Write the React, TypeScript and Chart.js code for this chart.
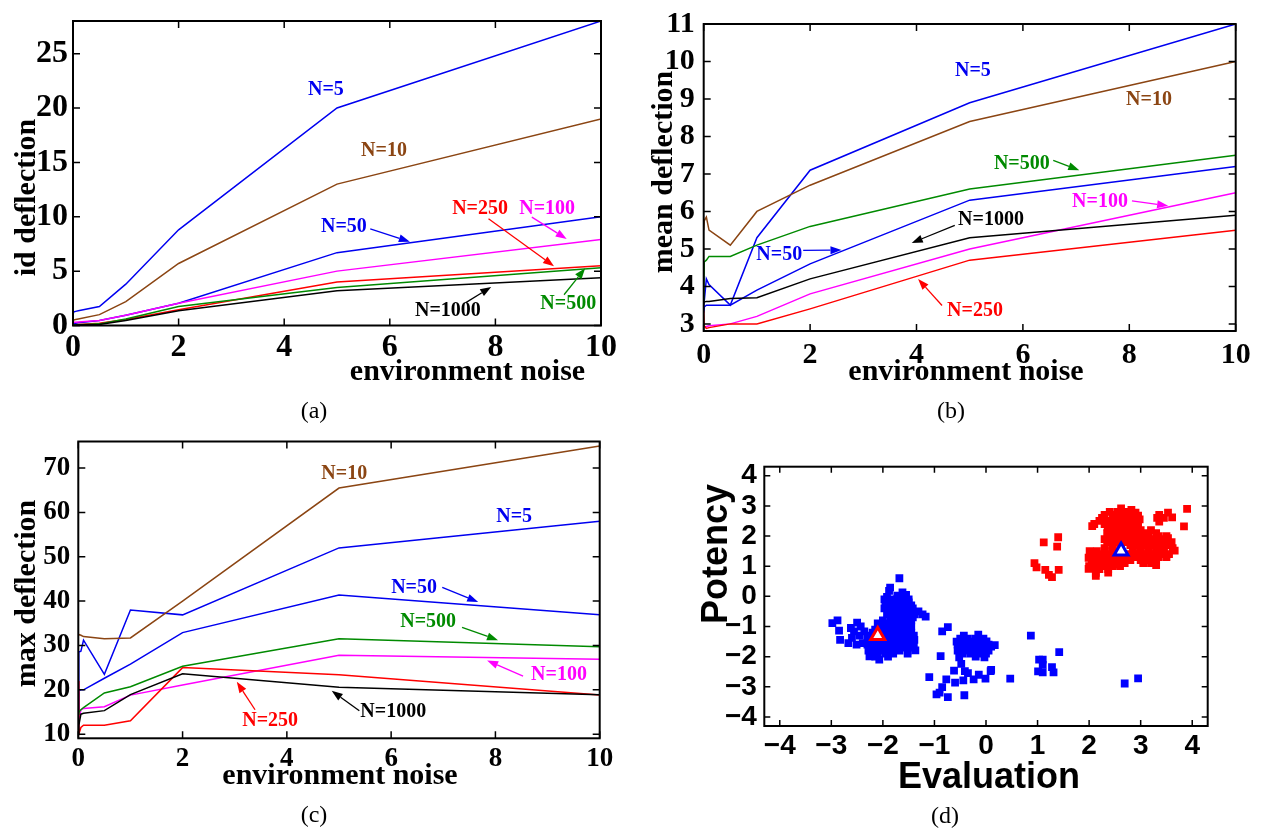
import React, { useEffect, useRef } from "react";
import { Chart, registerables } from "chart.js";
Chart.register(...registerables);

const SERIF = '"Liberation Serif", "Times New Roman", serif';
const SANS = '"Liberation Sans", Arial, sans-serif';

const BLUE = "#0000f0";
const BROWN = "#8b4513";
const GREEN = "#008a00";
const MAGENTA = "#ff00ff";
const RED = "#ff0000";
const BLACK = "#000000";

// ---- shared x values (environment noise) ----
const noiseLevels = [0, 0.01, 0.05, 0.1, 0.5, 1, 2, 5, 10];
const noiseTicks = [0, 2, 4, 6, 8, 10];

// ---- (a) id deflection ----
const idN5 = [1.2, 1.25, 1.3, 1.35, 1.75, 3.8, 8.8, 20.0, 28.0];
const idN10 = [0.45, 0.5, 0.55, 0.6, 1.0, 2.2, 5.7, 13.0, 19.0];
const idN50 = [0.1, 0.15, 0.2, 0.25, 0.45, 0.95, 2.05, 6.7, 10.0];
const idN100 = [0.25, 0.3, 0.3, 0.32, 0.45, 0.95, 2.05, 5.0, 7.9];
const idN250 = [0.05, 0.05, 0.08, 0.1, 0.2, 0.55, 1.45, 4.0, 5.5];
const idN500 = [0.02, 0.03, 0.05, 0.08, 0.15, 0.6, 1.75, 3.5, 5.3];
const idN1000 = [0.0, 0.01, 0.02, 0.04, 0.1, 0.45, 1.35, 3.2, 4.4];
const idTicks = [0, 5, 10, 15, 20, 25];

// ---- (b) mean deflection ----
const meanN5 = [3.35, 3.6, 4.2, 4.05, 3.5, 5.3, 7.1, 8.9, 11.0];
const meanN10 = [5.5, 5.75, 5.85, 5.5, 5.1, 6.0, 6.7, 8.4, 10.0];
const meanN50 = [3.3, 3.45, 3.5, 3.5, 3.5, 3.9, 4.6, 6.3, 7.2];
const meanN100 = [2.95, 2.92, 2.93, 2.95, 3.0, 3.2, 3.8, 5.0, 6.5];
const meanN250 = [3.35, 2.95, 2.88, 2.9, 3.0, 3.0, 3.4, 4.7, 5.5];
const meanN500 = [3.6, 4.65, 4.7, 4.8, 4.8, 5.1, 5.6, 6.6, 7.5];
const meanN1000 = [3.55, 3.58, 3.6, 3.6, 3.68, 3.7, 4.2, 5.3, 5.9];
const meanTicks = [3, 4, 5, 6, 7, 8, 9, 10, 11];

// ---- (c) max deflection ----
const maxN5 = [15, 28.5, 28.7, 31.2, 23.5, 38.0, 36.9, 52.0, 58.0];
const maxN10 = [32.6, 32.5, 32.3, 32.0, 31.5, 31.7, 40.0, 65.5, 75.0];
const maxN50 = [15, 19.8, 20.0, 20.0, 22.6, 25.8, 32.9, 41.4, 36.9];
const maxN100 = [10.5, 13, 15.5, 15.8, 16.2, 18.8, 21.1, 27.8, 26.9];
const maxN250 = [22, 10.0, 11.5, 12.0, 12.0, 13.0, 25.0, 23.4, 18.8];
const maxN500 = [14.5, 15.0, 15.5, 16.0, 19.3, 20.7, 25.3, 31.5, 29.7];
const maxN1000 = [10.2, 12, 14.5, 14.7, 15.3, 18.9, 23.6, 20.6, 18.9];
const maxTicks = [10, 20, 30, 40, 50, 60, 70];

// ---- (d) Evaluation / Potency scatter ----
const factorTicks = [-4, -3, -2, -1, 0, 1, 2, 3, 4];
const blueGroup = [
  [-2.98, -0.89], [-2.88, -0.8], [-2.85, -1.14], [-2.83, -1.44], [-2.67, -1.55], [-2.6, -1.38], [-2.56, -1.16],
  [-2.5, -0.87], [-2.43, -1.0], [-2.51, -1.6], [-2.39, -1.55], [-2.36, -1.16], [-2.45, -1.3], [-2.62, -1.05],
  [-1.68, 0.6], [-1.86, 0.29], [-1.88, 0.18], [-1.62, 0.13], [-1.55, 0.05], [-1.72, 0.02], [-1.92, -0.02],
  [-1.97, -0.1], [-1.85, -0.1], [-1.72, -0.1], [-1.62, -0.1], [-1.5, -0.1],
  [-1.95, -0.2], [-1.8, -0.2], [-1.66, -0.2], [-1.5, -0.2],
  [-1.9, -0.3], [-1.75, -0.3], [-1.6, -0.3], [-1.45, -0.3],
  [-1.97, -0.4], [-1.82, -0.4], [-1.68, -0.4], [-1.55, -0.4], [-1.42, -0.4],
  [-1.88, -0.5], [-1.75, -0.5], [-1.6, -0.5], [-1.49, -0.5], [-1.31, -0.5],
  [-1.92, -0.6], [-1.78, -0.6], [-1.65, -0.6], [-1.5, -0.6], [-1.38, -0.6], [-1.23, -0.6],
  [-1.85, -0.7], [-1.7, -0.7], [-1.55, -0.7], [-1.42, -0.7], [-1.17, -0.67],
  [-2.0, -0.8], [-1.85, -0.8], [-1.72, -0.8], [-1.6, -0.8], [-1.45, -0.8],
  [-2.1, -0.9], [-1.95, -0.9], [-1.8, -0.9], [-1.65, -0.9], [-1.5, -0.9],
  [-2.05, -1.0], [-1.9, -1.0], [-1.75, -1.0], [-1.6, -1.0], [-1.45, -1.0],
  [-2.15, -1.1], [-2.0, -1.1], [-1.85, -1.1], [-1.7, -1.1], [-1.55, -1.1],
  [-2.2, -1.2], [-2.05, -1.2], [-1.9, -1.2], [-1.75, -1.2], [-1.6, -1.2], [-1.45, -1.2],
  [-2.25, -1.3], [-1.95, -1.3], [-1.8, -1.3], [-1.65, -1.3], [-1.5, -1.3], [-1.4, -1.3],
  [-2.3, -1.4], [-2.15, -1.4], [-2.0, -1.4], [-1.85, -1.4], [-1.7, -1.4], [-1.55, -1.4], [-1.39, -1.44],
  [-2.25, -1.5], [-2.1, -1.5], [-1.95, -1.5], [-1.8, -1.5], [-1.65, -1.5], [-1.5, -1.5],
  [-2.3, -1.6], [-2.15, -1.6], [-2.0, -1.6], [-1.85, -1.6], [-1.7, -1.6], [-1.55, -1.6], [-1.4, -1.6],
  [-2.25, -1.7], [-2.1, -1.7], [-1.95, -1.7], [-1.8, -1.7], [-1.65, -1.7], [-1.5, -1.7], [-1.37, -1.79],
  [-2.28, -1.8], [-2.12, -1.8], [-1.98, -1.8], [-1.82, -1.8], [-1.68, -1.8], [-1.52, -1.8],
  [-2.25, -1.9], [-2.1, -1.9], [-1.95, -1.9], [-1.8, -1.9], [-1.52, -1.9],
  [-2.26, -1.99], [-2.15, -2.0], [-1.9, -2.0], [-2.07, -2.1],
  [-0.43, -1.3], [-0.15, -1.27],
  [-0.5, -1.4], [-0.35, -1.4], [-0.2, -1.4], [-0.05, -1.4],
  [-0.57, -1.5], [-0.42, -1.5], [-0.28, -1.5], [-0.12, -1.5], [0.01, -1.49],
  [-0.55, -1.6], [-0.4, -1.6], [-0.25, -1.6], [-0.1, -1.6], [0.05, -1.6], [0.17, -1.62],
  [-0.5, -1.7], [-0.35, -1.7], [-0.2, -1.7], [-0.05, -1.7], [0.1, -1.67],
  [-0.55, -1.8], [-0.4, -1.8], [-0.25, -1.8], [-0.1, -1.8], [0.05, -1.8],
  [-0.45, -1.9], [-0.3, -1.9], [-0.15, -1.9], [0.0, -1.9],
  [-0.52, -2.02], [-0.2, -2.0], [-0.03, -2.02],
  [-0.74, -1.02], [-0.85, -1.16], [-0.88, -1.98], [-0.48, -2.24], [-0.62, -2.46], [-0.41, -2.48],
  [-0.35, -2.55], [0.09, -2.48], [-0.14, -2.6], [-0.01, -2.73], [-0.24, -2.75], [-0.44, -2.79],
  [-0.6, -2.86], [-0.77, -2.75], [-1.1, -2.68], [-0.85, -3.01], [-0.9, -3.19], [-0.74, -3.34],
  [-0.42, -3.28], [-0.96, -3.25], [0.47, -2.73], [0.1, -2.44],
  [0.87, -1.3], [1.03, -2.1], [1.1, -2.1], [1.01, -2.49], [1.1, -2.52], [1.28, -2.35], [1.31, -2.52],
  [1.42, -1.85], [1.1, -2.27], [2.69, -2.89], [2.95, -2.72],
];
const redGroup = [
  [0.94, 1.1], [0.98, 0.96], [1.12, 1.79], [1.15, 0.88], [1.22, 0.71], [1.28, 0.64], [1.4, 1.96],
  [1.38, 1.65], [1.41, 0.88], [3.9, 2.9], [3.84, 2.32],
  [2.62, 2.92], [2.82, 2.87],
  [2.4, 2.8], [2.55, 2.8], [2.7, 2.8], [2.9, 2.78],
  [2.3, 2.7], [2.5, 2.7], [2.65, 2.7], [2.78, 2.7], [2.95, 2.68], [3.36, 2.7], [3.53, 2.78],
  [2.25, 2.6], [2.46, 2.6], [2.6, 2.6], [2.72, 2.6], [2.88, 2.6], [2.98, 2.55], [3.32, 2.6], [3.45, 2.6], [3.61, 2.62],
  [2.2, 2.5], [2.38, 2.5], [2.55, 2.5], [2.68, 2.5], [2.8, 2.5], [3.36, 2.48],
  [2.1, 2.4], [2.3, 2.4], [2.45, 2.4], [2.6, 2.4], [2.75, 2.4], [2.9, 2.4],
  [2.06, 2.33], [2.36, 2.3], [2.52, 2.3], [2.66, 2.3], [2.8, 2.3], [2.95, 2.3],
  [2.4, 2.2], [2.55, 2.2], [2.7, 2.2], [2.85, 2.2], [3.0, 2.2], [3.2, 2.2],
  [2.35, 2.1], [2.5, 2.1], [2.62, 2.1], [2.78, 2.1], [2.92, 2.1], [3.1, 2.1], [3.3, 2.1],
  [2.42, 2.0], [2.58, 2.0], [2.7, 2.0], [2.85, 2.0], [3.0, 2.0], [3.15, 2.0], [3.35, 2.0], [3.5, 2.0],
  [2.3, 1.9], [2.5, 1.9], [2.65, 1.9], [2.8, 1.9], [2.95, 1.9], [3.1, 1.9], [3.25, 1.9], [3.4, 1.9], [3.53, 1.93],
  [2.35, 1.8], [2.55, 1.8], [2.75, 1.8], [2.9, 1.8], [3.05, 1.8], [3.2, 1.8], [3.35, 1.8], [3.5, 1.8], [3.6, 1.8],
  [2.45, 1.7], [2.62, 1.7], [2.8, 1.7], [2.98, 1.7], [3.12, 1.7], [3.28, 1.7], [3.42, 1.7], [3.56, 1.7],
  [2.3, 1.6], [2.45, 1.6], [2.6, 1.6], [2.85, 1.6], [3.0, 1.6], [3.15, 1.6], [3.3, 1.6], [3.45, 1.6], [3.62, 1.6],
  [2.01, 1.5], [2.15, 1.5], [2.3, 1.5], [2.45, 1.5], [2.85, 1.5], [3.0, 1.5], [3.15, 1.5], [3.3, 1.5], [3.45, 1.5], [3.66, 1.52],
  [2.1, 1.4], [2.25, 1.4], [2.4, 1.4], [2.55, 1.4], [2.8, 1.4], [2.95, 1.4], [3.1, 1.4], [3.25, 1.4], [3.4, 1.4], [3.55, 1.4],
  [1.99, 1.28], [2.15, 1.3], [2.3, 1.3], [2.45, 1.3], [2.6, 1.3], [2.75, 1.3], [2.9, 1.3], [3.05, 1.3], [3.2, 1.3], [3.35, 1.3], [3.5, 1.3],
  [2.05, 1.2], [2.2, 1.2], [2.35, 1.2], [2.5, 1.2], [2.65, 1.2], [2.8, 1.2], [3.0, 1.2], [3.15, 1.2], [3.3, 1.2],
  [2.1, 1.1], [2.25, 1.1], [2.4, 1.1], [2.53, 1.05], [2.69, 1.1], [3.05, 1.1], [3.2, 1.1],
  [2.0, 1.0], [2.15, 1.0], [2.3, 1.0], [2.45, 1.0], [2.6, 1.0], [3.3, 1.04],
  [1.99, 0.91], [2.2, 0.9], [2.37, 0.9], [2.13, 0.78], [2.37, 0.79], [2.13, 0.68],
];
const blueCentroid = [[2.62, 1.5]];
const redCentroid = [[-2.1, -1.3]];

// ---- layout / style specs ----
const lineSpecs = [
  {
    key: "a", left: 0, top: 0, w: 630, h: 400,
    area: { left: 73, top: 15.5, right: 601, bottom: 325.5 },
    yMin: 0, yMax: 28, yTicks: idTicks, tickSize: 32, xPad: 6.5, yPad: 5,
    series: [
      { v: idN1000, c: BLACK }, { v: idN500, c: GREEN }, { v: idN250, c: RED }, { v: idN100, c: MAGENTA },
      { v: idN50, c: BLUE }, { v: idN10, c: BROWN }, { v: idN5, c: BLUE },
    ],
    xTitle: { text: "environment noise", x: 467.5, y: 380 },
    yTitle: { text: "id deflection", x: 35, y: 197.5 },
    notes: [
      { text: "N=5", c: BLUE, at: [4.79, 21.7] },
      { text: "N=10", c: BROWN, at: [5.89, 16.1] },
      { text: "N=50", c: BLUE, at: [5.13, 9.06], from: [5.63, 8.89], to: [6.38, 7.71] },
      { text: "N=250", c: RED, at: [7.71, 10.7], from: [7.87, 9.82], to: [9.11, 5.45] },
      { text: "N=100", c: MAGENTA, at: [8.98, 10.7], from: [8.69, 9.97], to: [9.35, 7.96] },
      { text: "N=1000", c: BLACK, at: [7.1, 1.38], from: [7.44, 2.1], to: [7.92, 3.55] },
      { text: "N=500", c: GREEN, at: [9.38, 2.02], from: [9.3, 2.83], to: [9.7, 5.27] },
    ],
  },
  {
    key: "b", left: 630, top: 0, w: 633, h: 400,
    area: { left: 73.7, top: 20, right: 605.7, bottom: 331 },
    yMin: 2.81, yMax: 11, yTicks: meanTicks, tickSize: 30, xPad: 9, yPad: 9,
    series: [
      { v: meanN1000, c: BLACK }, { v: meanN500, c: GREEN }, { v: meanN250, c: RED }, { v: meanN100, c: MAGENTA },
      { v: meanN50, c: BLUE }, { v: meanN10, c: BROWN }, { v: meanN5, c: BLUE },
    ],
    xTitle: { text: "environment noise", x: 336, y: 380 },
    yTitle: { text: "mean deflection", x: 42, y: 172 },
    notes: [
      { text: "N=5", c: BLUE, at: [5.06, 9.76] },
      { text: "N=10", c: BROWN, at: [8.37, 8.97] },
      { text: "N=500", c: GREEN, at: [5.98, 7.26], from: [6.57, 7.36], to: [7.06, 7.1] },
      { text: "N=100", c: MAGENTA, at: [7.45, 6.26], from: [8.05, 6.28], to: [8.73, 6.15] },
      { text: "N=1000", c: BLACK, at: [5.4, 5.78], from: [4.72, 5.63], to: [3.91, 5.16] },
      { text: "N=50", c: BLUE, at: [1.42, 4.83], from: [1.87, 4.96], to: [2.59, 4.97] },
      { text: "N=250", c: RED, at: [5.1, 3.36], from: [4.48, 3.49], to: [4.03, 4.2] },
    ],
  },
  {
    key: "c", left: 0, top: 420, w: 630, h: 414,
    area: { left: 78.3, top: 12.7, right: 599.7, bottom: 318.3 },
    yMin: 9.06, yMax: 76, yTicks: maxTicks, tickSize: 27, xPad: 7, yPad: 8,
    series: [
      { v: maxN1000, c: BLACK }, { v: maxN500, c: GREEN }, { v: maxN250, c: RED }, { v: maxN100, c: MAGENTA },
      { v: maxN50, c: BLUE }, { v: maxN10, c: BROWN }, { v: maxN5, c: BLUE },
    ],
    xTitle: { text: "environment noise", x: 340, y: 364 },
    yTitle: { text: "max deflection", x: 35, y: 173.5 },
    notes: [
      { text: "N=10", c: BROWN, at: [5.1, 68.7] },
      { text: "N=5", c: BLUE, at: [8.36, 59.0] },
      { text: "N=50", c: BLUE, at: [6.44, 43.1], from: [6.98, 43.1], to: [7.67, 39.8] },
      { text: "N=500", c: GREEN, at: [6.71, 35.4], from: [7.36, 34.1], to: [8.05, 31.2] },
      { text: "N=100", c: MAGENTA, at: [9.22, 23.4], from: [8.53, 23.1], to: [7.84, 26.6] },
      { text: "N=1000", c: BLACK, at: [6.04, 15.0], from: [5.39, 15.26], to: [4.86, 19.8] },
      { text: "N=250", c: RED, at: [3.68, 13.1], from: [3.39, 15.5], to: [3.04, 21.8] },
    ],
  },
];

const scatterSpec = {
  key: "d", left: 640, top: 420, w: 623, h: 414,
  area: { left: 124.3, top: 46.7, right: 567.7, bottom: 306 },
  tickSize: 28, xPad: 6, yPad: 7.5,
  xTitle: { text: "Evaluation", x: 349, y: 368 },
  yTitle: { text: "Potency", x: 87, y: 134 },
};

const captions = [
  { text: "(a)", x: 314, y: 410 },
  { text: "(b)", x: 951, y: 410 },
  { text: "(c)", x: 314, y: 814 },
  { text: "(d)", x: 945, y: 815 },
];

function decorPlugin(spec: any, opts: any) {
  return {
    id: "decor" + spec.key,
    afterDraw(chart: any) {
      const { ctx, chartArea: a } = chart;
      const xs = chart.scales.x;
      const ys = chart.scales.y;
      ctx.save();
      for (const n of spec.notes || []) {
        ctx.strokeStyle = n.c;
        ctx.fillStyle = n.c;
        ctx.lineWidth = 1.3;
        if (n.from) {
          const x1 = xs.getPixelForValue(n.from[0]);
          const y1 = ys.getPixelForValue(n.from[1]);
          const x2 = xs.getPixelForValue(n.to[0]);
          const y2 = ys.getPixelForValue(n.to[1]);
          const ang = Math.atan2(y2 - y1, x2 - x1);
          const L = 11, W = 4;
          const bx = x2 - L * Math.cos(ang);
          const by = y2 - L * Math.sin(ang);
          ctx.beginPath();
          ctx.moveTo(x1, y1);
          ctx.lineTo(bx, by);
          ctx.stroke();
          ctx.beginPath();
          ctx.moveTo(x2, y2);
          ctx.lineTo(bx + W * Math.sin(ang), by - W * Math.cos(ang));
          ctx.lineTo(bx - W * Math.sin(ang), by + W * Math.cos(ang));
          ctx.closePath();
          ctx.fill();
        }
        ctx.font = `bold 20px ${SERIF}`;
        ctx.textAlign = "center";
        ctx.textBaseline = "middle";
        ctx.fillText(n.text, xs.getPixelForValue(n.at[0]), ys.getPixelForValue(n.at[1]));
      }
      // frame + inward ticks on all sides
      ctx.strokeStyle = "#000";
      ctx.lineWidth = opts.frameWidth;
      ctx.strokeRect(a.left, a.top, a.right - a.left, a.bottom - a.top);
      ctx.lineWidth = opts.tickWidth;
      ctx.beginPath();
      for (const t of xs.ticks) {
        const p = xs.getPixelForValue(t.value);
        ctx.moveTo(p, a.bottom);
        ctx.lineTo(p, a.bottom - opts.tickLen);
        ctx.moveTo(p, a.top);
        ctx.lineTo(p, a.top + opts.tickLen);
      }
      for (const t of ys.ticks) {
        const p = ys.getPixelForValue(t.value);
        ctx.moveTo(a.left, p);
        ctx.lineTo(a.left + opts.tickLen, p);
        ctx.moveTo(a.right, p);
        ctx.lineTo(a.right - opts.tickLen, p);
      }
      ctx.stroke();
      // axis titles
      ctx.fillStyle = "#000";
      ctx.font = opts.titleFont;
      ctx.textAlign = "center";
      ctx.textBaseline = "alphabetic";
      ctx.fillText(spec.xTitle.text, spec.xTitle.x, spec.xTitle.y);
      ctx.translate(spec.yTitle.x, spec.yTitle.y);
      ctx.rotate(-Math.PI / 2);
      ctx.fillText(spec.yTitle.text, 0, 0);
      ctx.restore();
    },
  };
}

function axisCommon(spec: any, family: string, tickValues: number[], isX: boolean, fmt?: (v: number) => string) {
  return {
    type: "linear",
    afterBuildTicks: (s: any) => {
      s.ticks = tickValues.map((v) => ({ value: v }));
    },
    afterFit: (s: any) => {
      if (isX) s.height = spec.h - spec.area.bottom;
      else s.width = spec.area.left;
    },
    grid: { display: false, drawTicks: false },
    border: { display: false },
    ticks: {
      color: "#000",
      autoSkip: false,
      maxRotation: 0,
      padding: isX ? spec.xPad : spec.yPad,
      font: { family, size: spec.tickSize, weight: "bold", lineHeight: 1 },
      callback: fmt ? (v: any) => fmt(Number(v)) : (v: any) => String(v),
    },
  };
}

function lineConfig(spec: any) {
  return {
    type: "line",
    data: {
      datasets: spec.series.map((s: any) => ({
        data: noiseLevels.map((x, i) => ({ x, y: s.v[i] })),
        borderColor: s.c,
        borderWidth: 1.5,
        pointRadius: 0,
        fill: false,
        tension: 0,
      })),
    },
    options: {
      animation: false,
      responsive: false,
      devicePixelRatio: 1,
      events: [],
      layout: { padding: { left: 0, top: spec.area.top, right: spec.w - spec.area.right, bottom: 0 } },
      plugins: { legend: { display: false }, tooltip: { enabled: false } },
      scales: {
        x: { ...axisCommon(spec, "Liberation Serif", noiseTicks, true), min: 0, max: 10 },
        y: { ...axisCommon(spec, "Liberation Serif", spec.yTicks, false), min: spec.yMin, max: spec.yMax },
      },
    },
    plugins: [decorPlugin(spec, { frameWidth: 2, tickWidth: 1.5, tickLen: 7, titleFont: `bold 30px ${SERIF}` })],
  };
}

const minusFmt = (v: number) => (v < 0 ? "\u2212" + Math.abs(v) : String(v));
const toPts = (arr: number[][]) => arr.map((p) => ({ x: p[0], y: p[1] }));

function scatterConfig(spec: any) {
  return {
    type: "scatter",
    data: {
      datasets: [
        { data: toPts(redCentroid), pointStyle: "triangle", pointRadius: 8, borderWidth: 3, borderColor: RED, backgroundColor: "#ffffff" },
        { data: toPts(blueCentroid), pointStyle: "triangle", pointRadius: 8, borderWidth: 3, borderColor: BLUE, backgroundColor: "#ffffff" },
        { data: toPts(blueGroup), pointStyle: "rect", pointRadius: 5.5, borderWidth: 0, backgroundColor: "#0000ff" },
        { data: toPts(redGroup), pointStyle: "rect", pointRadius: 5.5, borderWidth: 0, backgroundColor: "#ff0000" },
      ],
    },
    options: {
      animation: false,
      responsive: false,
      devicePixelRatio: 1,
      events: [],
      layout: { padding: { left: 0, top: spec.area.top, right: spec.w - spec.area.right, bottom: 0 } },
      plugins: { legend: { display: false }, tooltip: { enabled: false } },
      scales: {
        x: { ...axisCommon(spec, "Liberation Sans", factorTicks, true, minusFmt), min: -4.3, max: 4.3 },
        y: { ...axisCommon(spec, "Liberation Sans", factorTicks, false, minusFmt), min: -4.3, max: 4.3 },
      },
    },
    plugins: [decorPlugin(spec, { frameWidth: 2, tickWidth: 1.5, tickLen: 6, titleFont: `bold 36px ${SANS}` })],
  };
}

function Panel({ spec, build }: { spec: any; build: (s: any) => any }) {
  const ref = useRef<HTMLCanvasElement>(null);
  useEffect(() => {
    const chart = new Chart(ref.current as HTMLCanvasElement, build(spec));
    return () => chart.destroy();
  }, []);
  return (
    <canvas
      ref={ref}
      width={spec.w}
      height={spec.h}
      style={{ position: "absolute", left: spec.left, top: spec.top, width: spec.w, height: spec.h }}
    />
  );
}

export default function App() {
  return (
    <div style={{ position: "absolute", left: 0, top: 0, width: 1263, height: 834, background: "#fff", overflow: "hidden" }}>
      {lineSpecs.map((s) => (
        <Panel key={s.key} spec={s} build={lineConfig} />
      ))}
      <Panel spec={scatterSpec} build={scatterConfig} />
      {captions.map((c) => (
        <div
          key={c.text}
          style={{
            position: "absolute",
            left: c.x,
            top: c.y,
            transform: "translate(-50%, -50%)",
            fontFamily: SERIF,
            fontSize: 24,
            lineHeight: 1,
            color: "#000",
          }}
        >
          {c.text}
        </div>
      ))}
    </div>
  );
}
